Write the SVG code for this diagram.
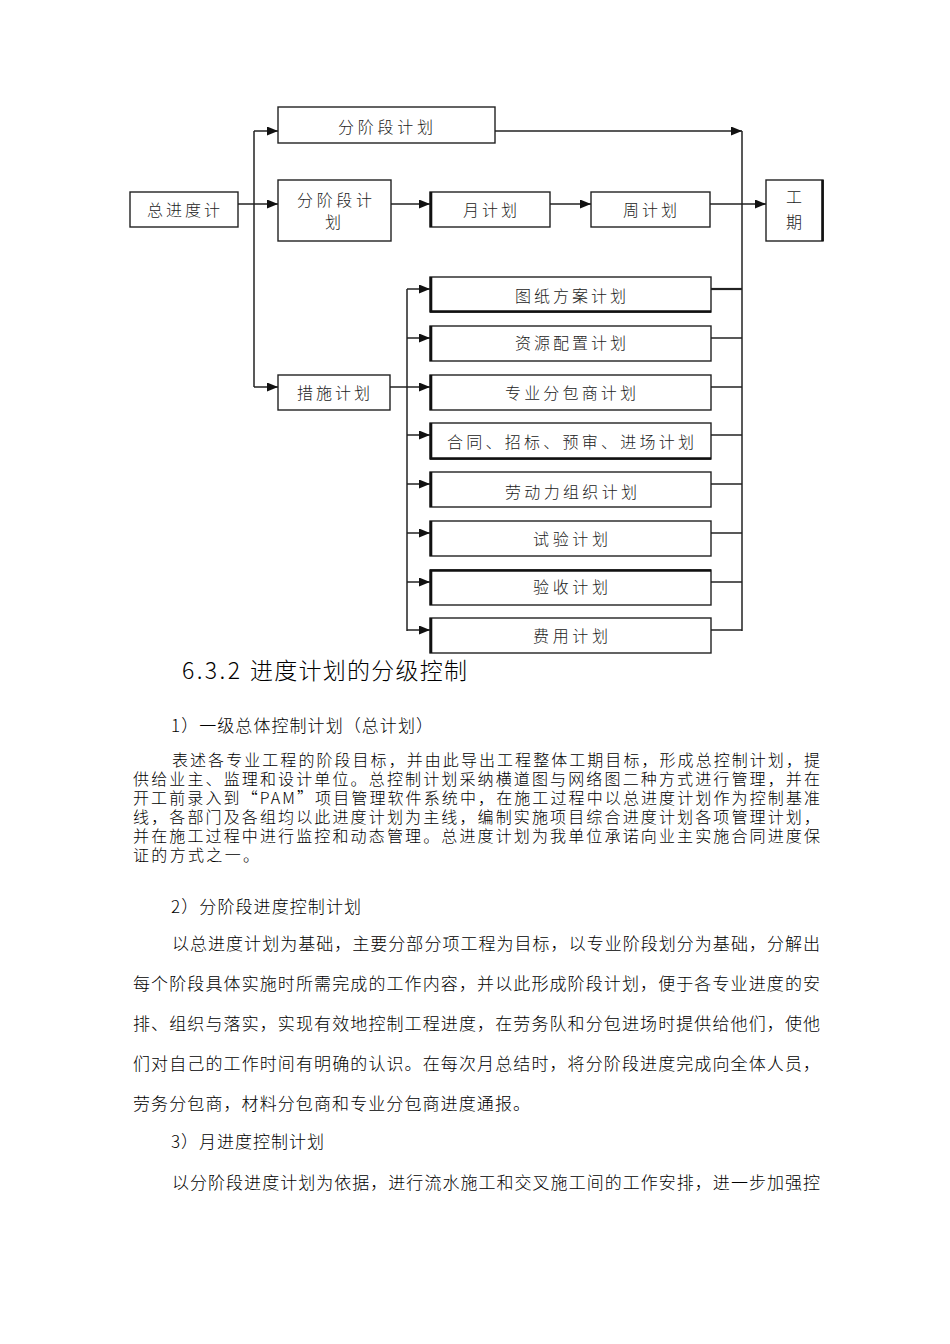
<svg xmlns="http://www.w3.org/2000/svg" width="950" height="1344" viewBox="0 0 950 1344">
<style>
.bx{fill:#fff;stroke:#222;stroke-width:1.4}
.ln{fill:none;stroke:#222;stroke-width:1.5}
.lbl{font-family:"Noto Sans CJK SC","Noto Sans CJK JP",sans-serif;font-size:16px;font-weight:300;fill:#222}
.body{font-family:"Noto Sans CJK SC","Noto Sans CJK JP",sans-serif;font-size:17px;font-weight:300;fill:#000}
.tight{font-size:16px}
.head{font-family:"Noto Sans CJK SC","Noto Sans CJK JP",sans-serif;font-size:23px;font-weight:300;fill:#000}
.thick{fill:none;stroke:#111;stroke-width:2.6}
</style>
<defs>
<marker id="arr" markerUnits="userSpaceOnUse" markerWidth="11" markerHeight="9" refX="11" refY="4.5" orient="auto">
<path d="M0,0 L11,4.5 L0,9 z" fill="#111"/>
</marker>
</defs>
<rect width="950" height="1344" fill="#fff"/>

<g id="connectors">
<line class="ln" x1="254" y1="131" x2="254" y2="387"/>
<line class="ln" x1="254" y1="131" x2="278" y2="131" marker-end="url(#arr)"/>
<line class="ln" x1="238" y1="204" x2="278" y2="204" marker-end="url(#arr)"/>
<line class="ln" x1="254" y1="387" x2="278" y2="387" marker-end="url(#arr)"/>
<line class="ln" x1="495" y1="131" x2="742" y2="131" marker-end="url(#arr)"/>
<line class="ln" x1="391" y1="204" x2="430" y2="204" marker-end="url(#arr)"/>
<line class="ln" x1="550" y1="204" x2="591" y2="204" marker-end="url(#arr)"/>
<line class="ln" x1="710" y1="204" x2="766" y2="204" marker-end="url(#arr)"/>
<line class="ln" x1="742" y1="131" x2="742" y2="631"/>
<line class="ln" x1="407" y1="289" x2="407" y2="631"/>
<line class="ln" x1="390" y1="387" x2="407" y2="387"/>
<line class="ln" x1="407" y1="289" x2="430" y2="289" marker-end="url(#arr)"/>
<line class="ln" x1="407" y1="338" x2="430" y2="338" marker-end="url(#arr)"/>
<line class="ln" x1="407" y1="387" x2="430" y2="387" marker-end="url(#arr)"/>
<line class="ln" x1="407" y1="435" x2="430" y2="435" marker-end="url(#arr)"/>
<line class="ln" x1="407" y1="484" x2="430" y2="484" marker-end="url(#arr)"/>
<line class="ln" x1="407" y1="533" x2="430" y2="533" marker-end="url(#arr)"/>
<line class="ln" x1="407" y1="582" x2="430" y2="582" marker-end="url(#arr)"/>
<line class="ln" x1="407" y1="630" x2="430" y2="630" marker-end="url(#arr)"/>
<line class="ln" x1="711" y1="289" x2="742" y2="289" style="stroke-width:2.2"/>
<line class="ln" x1="711" y1="338" x2="742" y2="338"/>
<line class="ln" x1="711" y1="387" x2="742" y2="387"/>
<line class="ln" x1="711" y1="435" x2="742" y2="435"/>
<line class="ln" x1="711" y1="484" x2="742" y2="484"/>
<line class="ln" x1="711" y1="533" x2="742" y2="533"/>
<line class="ln" x1="711" y1="582" x2="742" y2="582"/>
<line class="ln" x1="711" y1="630" x2="742" y2="630"/>
</g>

<g id="n-total">
<rect class="bx" x="130" y="192" width="108" height="35"/>
<text class="lbl" x="147" y="216" textLength="73" lengthAdjust="spacing">总进度计</text>
</g>
<g id="n-stage1">
<rect class="bx" x="278" y="107" width="217" height="36"/>
<text class="lbl" x="338" y="133" textLength="95" lengthAdjust="spacing">分阶段计划</text>
</g>
<g id="n-stage2">
<rect class="bx" x="278" y="180" width="113" height="61"/>
<text class="lbl" x="297" y="206" textLength="75" lengthAdjust="spacing">分阶段计</text>
<text class="lbl" x="325" y="228">划</text>
</g>
<g id="n-month">
<rect class="bx" x="430" y="192" width="120" height="35"/>
<line class="thick" x1="431" y1="192" x2="431" y2="227"/>
<text class="lbl" x="463" y="216" textLength="54" lengthAdjust="spacing">月计划</text>
</g>
<g id="n-week">
<rect class="bx" x="591" y="192" width="119" height="35"/>
<text class="lbl" x="623" y="216" textLength="54" lengthAdjust="spacing">周计划</text>
</g>
<g id="n-period">
<rect class="bx" x="766" y="180" width="57" height="61"/>
<line class="thick" x1="822.5" y1="180" x2="822.5" y2="241"/>
<text class="lbl" x="786" y="203">工</text>
<text class="lbl" x="786" y="228">期</text>
</g>
<g id="n-measures">
<rect class="bx" x="278" y="375" width="112" height="35"/>
<text class="lbl" x="297" y="399" textLength="73" lengthAdjust="spacing">措施计划</text>
</g>
<g id="n-drawing">
<rect class="bx" x="430" y="277" width="281" height="35"/>
<line class="thick" x1="431" y1="277" x2="431" y2="312"/>
<line class="thick" x1="430" y1="311.5" x2="711" y2="311.5"/>
<text class="lbl" x="515" y="302" textLength="111" lengthAdjust="spacing">图纸方案计划</text>
</g>
<g id="n-resource">
<rect class="bx" x="430" y="326" width="281" height="35"/>
<line class="thick" x1="431" y1="326" x2="431" y2="361"/>
<text class="lbl" x="515" y="349" textLength="111" lengthAdjust="spacing">资源配置计划</text>
</g>
<g id="n-subcon">
<rect class="bx" x="430" y="375" width="281" height="35"/>
<line class="thick" x1="431" y1="375" x2="431" y2="410"/>
<text class="lbl" x="505" y="399" textLength="131" lengthAdjust="spacing">专业分包商计划</text>
</g>
<g id="n-contract">
<rect class="bx" x="430" y="423" width="281" height="36"/>
<line class="thick" x1="431" y1="423" x2="431" y2="459"/>
<line class="thick" x1="430" y1="458.5" x2="711" y2="458.5"/>
<text class="lbl" x="447" y="448" textLength="247" lengthAdjust="spacing">合同、招标、预审、进场计划</text>
</g>
<g id="n-labor">
<rect class="bx" x="430" y="472" width="281" height="35"/>
<line class="thick" x1="431" y1="472" x2="431" y2="507"/>
<text class="lbl" x="505" y="498" textLength="132" lengthAdjust="spacing">劳动力组织计划</text>
</g>
<g id="n-test">
<rect class="bx" x="430" y="521" width="281" height="35"/>
<line class="thick" x1="431" y1="521" x2="431" y2="556"/>
<text class="lbl" x="533" y="545" textLength="75" lengthAdjust="spacing">试验计划</text>
</g>
<g id="n-accept">
<rect class="bx" x="430" y="570" width="281" height="35"/>
<line class="thick" x1="431" y1="570" x2="431" y2="605"/>
<line class="thick" x1="430" y1="570.5" x2="711" y2="570.5"/>
<text class="lbl" x="533" y="593" textLength="75" lengthAdjust="spacing">验收计划</text>
</g>
<g id="n-cost">
<rect class="bx" x="430" y="618" width="281" height="35"/>
<line class="thick" x1="431" y1="618" x2="431" y2="653"/>
<text class="lbl" x="533" y="642" textLength="75" lengthAdjust="spacing">费用计划</text>
</g>

<g id="text-body">
<text class="head" x="182" y="679" textLength="58" lengthAdjust="spacing">6.3.2</text>
<text class="head" x="250" y="679" textLength="217" lengthAdjust="spacing">进度计划的分级控制</text>
<text class="body" x="171" y="731.5" textLength="262" lengthAdjust="spacing">1）一级总体控制计划（总计划）</text>
<text class="body tight" x="172" y="766" textLength="648" lengthAdjust="spacing">表述各专业工程的阶段目标，并由此导出工程整体工期目标，形成总控制计划，提</text>
<text class="body tight" x="133" y="785" textLength="687" lengthAdjust="spacing">供给业主、监理和设计单位。总控制计划采纳横道图与网络图二种方式进行管理，并在</text>
<text class="body tight" x="133" y="804" textLength="687" lengthAdjust="spacing">开工前录入到“PAM”项目管理软件系统中，在施工过程中以总进度计划作为控制基准</text>
<text class="body tight" x="133" y="823" textLength="687" lengthAdjust="spacing">线，各部门及各组均以此进度计划为主线，编制实施项目综合进度计划各项管理计划，</text>
<text class="body tight" x="133" y="842" textLength="687" lengthAdjust="spacing">并在施工过程中进行监控和动态管理。总进度计划为我单位承诺向业主实施合同进度保</text>
<text class="body tight" x="133" y="861" textLength="126" lengthAdjust="spacing">证的方式之一。</text>
<text class="body" x="171" y="912.5" textLength="190" lengthAdjust="spacing">2）分阶段进度控制计划</text>
<text class="body" x="172" y="949.5" textLength="648" lengthAdjust="spacing">以总进度计划为基础，主要分部分项工程为目标，以专业阶段划分为基础，分解出</text>
<text class="body" x="133" y="989.5" textLength="687" lengthAdjust="spacing">每个阶段具体实施时所需完成的工作内容，并以此形成阶段计划，便于各专业进度的安</text>
<text class="body" x="133" y="1029.5" textLength="687" lengthAdjust="spacing">排、组织与落实，实现有效地控制工程进度，在劳务队和分包进场时提供给他们，使他</text>
<text class="body" x="133" y="1069.5" textLength="687" lengthAdjust="spacing">们对自己的工作时间有明确的认识。在每次月总结时，将分阶段进度完成向全体人员，</text>
<text class="body" x="133" y="1109.5" textLength="397" lengthAdjust="spacing">劳务分包商，材料分包商和专业分包商进度通报。</text>
<text class="body" x="171" y="1147.5" textLength="153" lengthAdjust="spacing">3）月进度控制计划</text>
<text class="body" x="172" y="1188.5" textLength="648" lengthAdjust="spacing">以分阶段进度计划为依据，进行流水施工和交叉施工间的工作安排，进一步加强控</text>
</g>
</svg>
